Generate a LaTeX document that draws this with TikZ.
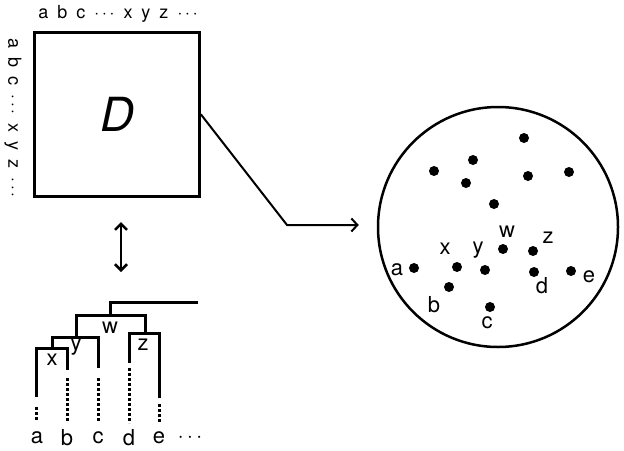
\documentclass[tikz,border=0pt]{standalone}
\usepackage{fontspec}
\setmainfont{TeX Gyre Heros}
\usetikzlibrary{arrows.meta}
\tikzset{
	pt/.style={circle,fill=black,inner sep=0pt,minimum size=10pt},
	lbl/.style={font=\fontsize{22}{24}\selectfont,inner sep=0pt},
	edge/.style={line width=3pt,line cap=butt},
	leaf/.style={line width=3pt,dash pattern=on 2.5pt off 2.5pt},
	barb/.style={line width=2pt,-{Straight Barb[length=6pt,width=13pt,line width=2pt]}}
}
\begin{document}
\begin{tikzpicture}[x=1pt,y=-1pt]
	\useasboundingbox (0,0) rectangle (624,450);
	% matrix D
	\node[draw,line width=3pt,minimum width=165pt,minimum height=164pt,inner sep=0pt] (D) at (117,114.5) {};
	\node[font=\fontsize{47}{50}\selectfont\itshape] at (D) {D};
	\node[font=\fontsize{18}{20}\selectfont,inner sep=0pt] (cols) at (118,14) {\spaceskip=.5em a b c $\cdots$ x y z $\cdots$};
	\node[font=\fontsize{18}{20}\selectfont,inner sep=0pt,rotate=-90] (rows) at (13,118) {\spaceskip=.5em a b c $\cdots$ x y z $\cdots$};
	% points
	\node[draw,circle,line width=2.5pt,minimum size=240pt,inner sep=0pt] (cloud) at (498,227) {};
	\foreach \x/\y in {524/138,473/160,434/171,466/183,528/176,569/172,494/204}
	\node[pt] at (\x,\y) {};
	\foreach \n/\x/\y/\lx/\ly in {w/503/249/507/232,z/533/251/548/238,x/457/267/445/249,y/485/270/478/250,
		a/414/268/397/270,b/449/287/434/305,c/490/307/487/323,d/534/272/542/286,e/571/271/589/277}
	{
	\node[pt] (\n) at (\x,\y) {};
	\node[lbl] at (\lx,\ly) {\n};
	}
	\coordinate (bend) at (287,225);
	\draw[barb,line cap=round,line join=round,shorten >=18pt] (D.east) -- (bend) -- (bend -| cloud.west);
	% tree
	\coordinate (top) at (121,222);
	\coordinate (bot) at (121,272);
	\draw[line width=2.5pt,{Straight Barb[length=6pt,width=12pt,line width=2.5pt]}-{Straight Barb[length=6pt,width=12pt,line width=2.5pt]}] (top) -- (bot);
	\draw[edge] (198,302) -- (110,302) -- (110,315);
	\draw[edge] (76,337) -- (76,315) -- (145,315) -- (145,333);
	\draw[edge] (52,348) -- (52,337) -- (98,337) -- (98,368);
	\draw[edge] (36,397) -- (36,348) -- (67,348) -- (67,370);
	\draw[edge] (129,363) -- (129,333) -- (159,333) -- (159,398);
	\foreach \x/\a/\b in {36/407/421,67/378/422,98/378/421,129/368/423,159/404/422}
	\draw[leaf] (\x,\a) -- (\x,\b);
	\node[lbl] at (110,328) {w};
	\node[lbl] at (76,347) {y};
	\node[lbl] at (52,360) {x};
	\node[lbl] at (143,345) {z};
	\foreach \n/\x in {a/37,b/67,c/98,d/129,e/159}
	\node[lbl] at (\x,438) {\n};
	\node[lbl] at (190,438) {$\cdots$};
\end{tikzpicture}
\end{document}
